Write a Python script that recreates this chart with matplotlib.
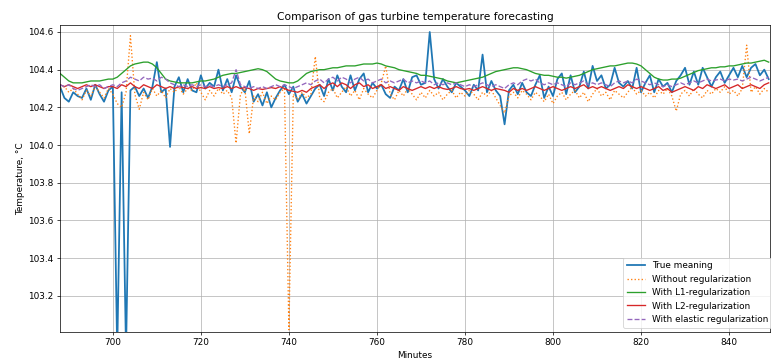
import matplotlib
matplotlib.use("Agg")
import matplotlib.pyplot as plt

minutes = list(range(688, 850))

true_vals = [
    104.31, 104.25, 104.23, 104.28, 104.26, 104.25, 104.30, 104.24, 104.32, 104.27,  # 688-697
    104.23, 104.29, 104.31, 102.90, 104.28, 102.90, 104.29, 104.31, 104.26, 104.30,  # 698-707
    104.25, 104.31, 104.44, 104.28, 104.30, 103.99, 104.31, 104.36, 104.28, 104.35,  # 708-717
    104.29, 104.28, 104.37, 104.30, 104.33, 104.31, 104.40, 104.29, 104.35, 104.28,  # 718-727
    104.37, 104.31, 104.28, 104.34, 104.23, 104.27, 104.21, 104.28, 104.20, 104.25,  # 728-737
    104.29, 104.32, 104.27, 104.31, 104.23, 104.27, 104.22, 104.26, 104.30, 104.32,  # 738-747
    104.26, 104.35, 104.29, 104.37, 104.31, 104.28, 104.37, 104.29, 104.35, 104.38,  # 748-757
    104.28, 104.33, 104.30, 104.32, 104.27, 104.25, 104.31, 104.29, 104.35, 104.28,  # 758-767
    104.36, 104.37, 104.32, 104.33, 104.60, 104.35, 104.30, 104.35, 104.31, 104.28,  # 768-777
    104.33, 104.31, 104.29, 104.26, 104.32, 104.29, 104.48, 104.28, 104.34, 104.29,  # 778-787
    104.26, 104.11, 104.29, 104.32, 104.27, 104.33, 104.28, 104.26, 104.32, 104.37,  # 788-797
    104.25, 104.31, 104.26, 104.35, 104.38, 104.27, 104.37, 104.28, 104.31, 104.39,  # 798-807
    104.30, 104.42, 104.34, 104.37, 104.30, 104.32, 104.41, 104.33, 104.31, 104.34,  # 808-817
    104.30, 104.41, 104.28, 104.33, 104.37, 104.28, 104.35, 104.31, 104.33, 104.28,  # 818-827
    104.34, 104.37, 104.41, 104.32, 104.39, 104.32, 104.41, 104.36, 104.31, 104.36,  # 828-837
    104.39, 104.33, 104.37, 104.41, 104.36, 104.42, 104.36, 104.41, 104.43, 104.37,  # 838-847
    104.40, 104.35,                                                                  # 848-849
]

no_reg = [
    104.30, 104.31, 104.28, 104.30, 104.27, 104.24, 104.29, 104.26, 104.31, 104.28,
    104.25, 104.30, 104.27, 104.22, 104.20, 104.28, 104.58, 104.27, 104.19, 104.28,
    104.24, 104.30, 104.26, 104.29, 104.25, 104.30, 104.28, 104.31, 104.27, 104.30,
    104.29, 104.33, 104.28, 104.24, 104.29, 104.26, 104.30, 104.27, 104.29, 104.25,
    104.01, 104.27, 104.30, 104.06, 104.26, 104.23, 104.28, 104.22, 104.26, 104.24,
    104.28, 104.30, 103.02, 104.27, 104.24, 104.28, 104.25, 104.27, 104.47, 104.25,
    104.23, 104.28, 104.30, 104.25, 104.28, 104.31, 104.26, 104.29, 104.24, 104.30,
    104.27, 104.25, 104.29, 104.33, 104.42, 104.27, 104.24, 104.29, 104.26, 104.30,
    104.27, 104.24, 104.28, 104.25, 104.29, 104.26, 104.28, 104.24, 104.27, 104.29,
    104.25, 104.28, 104.26, 104.29, 104.27, 104.24, 104.28, 104.26, 104.29, 104.25,
    104.21, 104.17, 104.26, 104.28, 104.25, 104.29, 104.27, 104.24, 104.28, 104.26,
    104.23, 104.27, 104.22, 104.26, 104.28, 104.24, 104.27, 104.29, 104.25, 104.28,
    104.23, 104.27, 104.30, 104.26, 104.28, 104.24, 104.29, 104.27, 104.25, 104.28,
    104.31, 104.27, 104.29, 104.26, 104.28, 104.25, 104.29, 104.27, 104.30, 104.26,
    104.18, 104.27, 104.29, 104.26, 104.30, 104.27, 104.25, 104.29, 104.27, 104.30,
    104.28, 104.31, 104.27, 104.29, 104.26, 104.30, 104.53, 104.28, 104.31, 104.27,
    104.30, 104.28,
]

l1_reg = [
    104.38, 104.36, 104.34, 104.33, 104.33, 104.33, 104.335, 104.34, 104.34, 104.34,
    104.345, 104.35, 104.35, 104.36, 104.38, 104.40, 104.42, 104.43, 104.435, 104.44,
    104.44, 104.43, 104.41, 104.38, 104.35, 104.34, 104.335, 104.33, 104.33, 104.33,
    104.33, 104.335, 104.34, 104.34, 104.345, 104.35, 104.36, 104.37, 104.375, 104.38,
    104.38, 104.385, 104.39, 104.395, 104.40, 104.405, 104.40, 104.39, 104.37, 104.35,
    104.34, 104.335, 104.33, 104.33, 104.34, 104.36, 104.38, 104.39, 104.395, 104.40,
    104.40, 104.405, 104.41, 104.41, 104.415, 104.42, 104.42, 104.42, 104.425, 104.43,
    104.43, 104.43, 104.435, 104.43, 104.42, 104.415, 104.41, 104.40, 104.395, 104.39,
    104.385, 104.38, 104.37, 104.37, 104.365, 104.36, 104.355, 104.35, 104.34, 104.335,
    104.33, 104.335, 104.34, 104.345, 104.35, 104.355, 104.36, 104.37, 104.38, 104.39,
    104.395, 104.40, 104.405, 104.41, 104.41, 104.405, 104.40, 104.39, 104.38, 104.375,
    104.37, 104.37, 104.365, 104.36, 104.36, 104.355, 104.36, 104.365, 104.37, 104.38,
    104.39, 104.40, 104.405, 104.41, 104.415, 104.42, 104.42, 104.425, 104.43, 104.435,
    104.435, 104.43, 104.42, 104.40, 104.38, 104.36, 104.35, 104.345, 104.345, 104.35,
    104.35, 104.355, 104.365, 104.375, 104.385, 104.395, 104.40, 104.405, 104.41, 104.41,
    104.415, 104.415, 104.42, 104.42, 104.425, 104.43, 104.435, 104.435, 104.44, 104.445,
    104.45, 104.44,
]

l2_reg = [
    104.32, 104.31, 104.32, 104.31, 104.30, 104.31, 104.32, 104.31, 104.32, 104.31,
    104.30, 104.31, 104.31, 104.30, 104.32, 104.31, 104.33, 104.31, 104.30, 104.32,
    104.31, 104.30, 104.32, 104.31, 104.30, 104.31, 104.30, 104.31, 104.305, 104.30,
    104.31, 104.30, 104.305, 104.30, 104.31, 104.30, 104.305, 104.30, 104.31, 104.30,
    104.31, 104.30, 104.305, 104.30, 104.29, 104.30, 104.295, 104.30, 104.305, 104.30,
    104.31, 104.30, 104.29, 104.285, 104.28, 104.29, 104.28, 104.30, 104.31, 104.32,
    104.30, 104.32, 104.33, 104.31, 104.33, 104.32, 104.30, 104.32, 104.33, 104.31,
    104.32, 104.30, 104.31, 104.32, 104.30, 104.31, 104.30, 104.29, 104.31, 104.30,
    104.29, 104.30, 104.31, 104.30, 104.31, 104.30, 104.31, 104.30, 104.295, 104.30,
    104.31, 104.30, 104.295, 104.30, 104.29, 104.30, 104.31, 104.30, 104.29, 104.30,
    104.295, 104.29, 104.28, 104.30, 104.29, 104.30, 104.29, 104.30, 104.31, 104.30,
    104.29, 104.30, 104.31, 104.30, 104.29, 104.30, 104.31, 104.30, 104.31, 104.32,
    104.30, 104.31, 104.30, 104.31, 104.30, 104.29, 104.30, 104.31, 104.30, 104.32,
    104.31, 104.30, 104.31, 104.30, 104.29, 104.30, 104.31, 104.29, 104.30, 104.28,
    104.29, 104.30, 104.31, 104.30, 104.29, 104.31, 104.30, 104.32, 104.31, 104.30,
    104.31, 104.32, 104.30, 104.31, 104.32, 104.30, 104.31, 104.32, 104.31, 104.30,
    104.32, 104.33,
]

elastic_reg = [
    104.32, 104.31, 104.32, 104.30, 104.29, 104.30, 104.31, 104.32, 104.31, 104.32,
    104.30, 104.31, 104.32, 104.31, 104.33, 104.34, 104.36, 104.35, 104.34, 104.36,
    104.35, 104.355, 104.34, 104.36, 104.35, 104.33, 104.32, 104.31, 104.32, 104.31,
    104.32, 104.31, 104.32, 104.31, 104.315, 104.31, 104.32, 104.31, 104.32, 104.33,
    104.40, 104.32, 104.31, 104.30, 104.31, 104.30, 104.31, 104.30, 104.31, 104.32,
    104.31, 104.32, 104.31, 104.30, 104.31, 104.32, 104.33, 104.32, 104.34, 104.35,
    104.33, 104.35, 104.36, 104.34, 104.36, 104.35, 104.33, 104.35, 104.36, 104.34,
    104.35, 104.33, 104.34, 104.35, 104.33, 104.34, 104.33, 104.34, 104.35, 104.33,
    104.34, 104.33, 104.34, 104.33, 104.34, 104.32, 104.33, 104.32, 104.33, 104.32,
    104.33, 104.32, 104.31, 104.32, 104.31, 104.32, 104.33, 104.32, 104.31, 104.32,
    104.31, 104.30, 104.32, 104.33, 104.32, 104.34, 104.35, 104.34, 104.35, 104.33,
    104.32, 104.33, 104.32, 104.33, 104.32, 104.31, 104.33, 104.32, 104.33, 104.34,
    104.32, 104.33, 104.32, 104.33, 104.32, 104.31, 104.33, 104.34, 104.33, 104.34,
    104.33, 104.35, 104.34, 104.33, 104.32, 104.33, 104.32, 104.31, 104.32, 104.31,
    104.32, 104.33, 104.32, 104.33, 104.34, 104.33, 104.34, 104.35, 104.34, 104.345,
    104.35, 104.34, 104.35, 104.345, 104.35, 104.34, 104.35, 104.36, 104.35, 104.34,
    104.35, 104.36,
]

labels = ["True meaning", "Without regularization", "With L1-regularization",
          "With L2-regularization", "With elastic regularization"]

DPI = 64
fig = plt.figure(figsize=(771 / DPI, 361 / DPI), dpi=DPI)
ax = fig.add_axes([60 / 771, 1 - 332 / 361, 710 / 771, 307 / 361])

ax.plot(minutes, true_vals, color="#1f77b4", lw=2.0, label=labels[0])
ax.plot(minutes, no_reg, color="#ff7f0e", lw=1.5, ls=":", label=labels[1])
ax.plot(minutes, l1_reg, color="#2ca02c", lw=1.5, label=labels[2])
ax.plot(minutes, l2_reg, color="#d62728", lw=1.5, label=labels[3])
ax.plot(minutes, elastic_reg, color="#9467bd", lw=1.5, ls="--", label=labels[4])

ax.set_xlim(688, 849.3)
ax.set_ylim(103.008, 104.637)
ax.grid(True)
ax.set_title("Comparison of gas turbine temperature forecasting")
ax.set_xlabel("Minutes")
ax.set_ylabel("Temperature, °C")
ax.legend(loc="lower left", bbox_to_anchor=(0.787, 0.0))

fig.savefig("out.png", dpi=DPI)
